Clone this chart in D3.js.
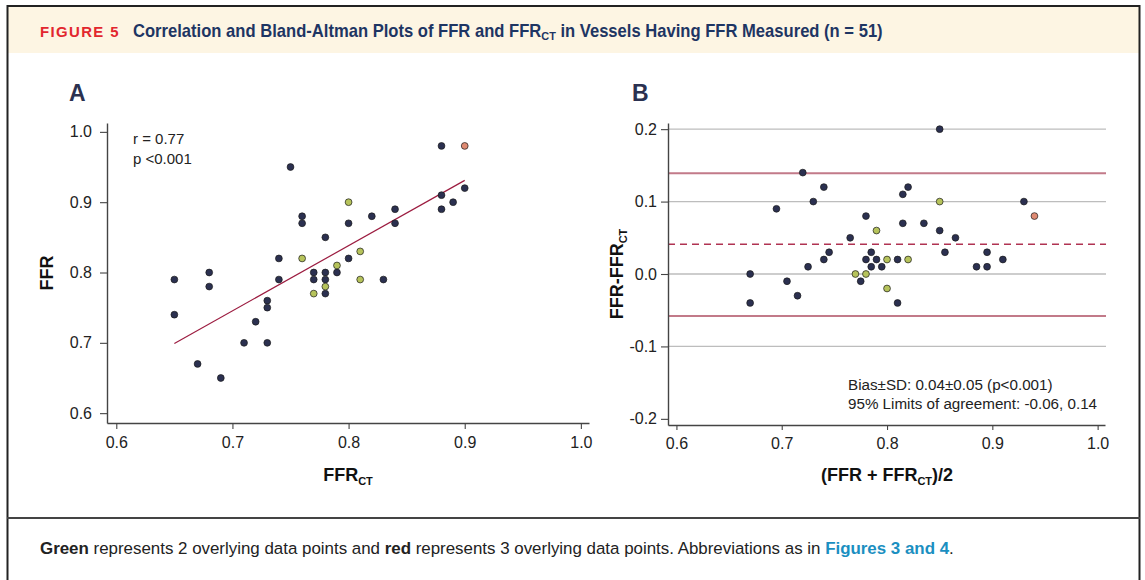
<!DOCTYPE html>
<html>
<head>
<meta charset="utf-8">
<script src="https://cdn.jsdelivr.net/npm/d3@7"></script>
<style>
  body { margin: 0; background: #fff; }
  svg text { font-family: "Liberation Sans", Arial, Helvetica, sans-serif; }
</style>
</head>
<body>
<svg id="fig" width="1145" height="580"></svg>
<script>
// panel A: FFR against FFR-CT, one entry per drawn dot
var ffrCT = [0.75, 0.65, 0.65, 0.68, 0.68, 0.67, 0.69, 0.71, 0.72, 0.73, 0.73, 0.73,
             0.74, 0.74, 0.76, 0.76, 0.77, 0.77, 0.78, 0.78, 0.78, 0.78, 0.79, 0.80,
             0.80, 0.82, 0.83, 0.84, 0.84, 0.88, 0.88, 0.88, 0.89, 0.90,
             0.76, 0.77, 0.78, 0.79, 0.80, 0.81, 0.81, 0.90];
var ffr   = [0.95, 0.79, 0.74, 0.80, 0.78, 0.67, 0.65, 0.70, 0.73, 0.76, 0.75, 0.70,
             0.82, 0.79, 0.88, 0.87, 0.80, 0.79, 0.85, 0.80, 0.79, 0.77, 0.80, 0.87,
             0.82, 0.88, 0.79, 0.89, 0.87, 0.98, 0.91, 0.89, 0.90, 0.92,
             0.82, 0.77, 0.78, 0.81, 0.90, 0.83, 0.79, 0.98];
// how many vessels sit on the dot (1 single, 2 green, 3 red)
var stackA = [1,1,1,1,1,1,1,1,1,1,1,1,1,1,1,1,1,1,1,1,1,1,1,1,1,1,1,1,1,1,1,1,1,1,
              2,2,2,2,2,2,2,3];

// regression line
var fitX = [0.65, 0.90];
var fitY = [0.699, 0.931];

// panel B: Bland-Altman
var meanB = [0.72, 0.74, 0.73, 0.695, 0.78, 0.765, 0.745, 0.74, 0.725, 0.67, 0.705, 0.715,
             0.67, 0.775, 0.78, 0.785, 0.785, 0.79, 0.85, 0.82, 0.815, 0.93, 0.815, 0.835,
             0.85, 0.865, 0.855, 0.795, 0.81, 0.81, 0.885, 0.895, 0.895, 0.91,
             0.79, 0.77, 0.78, 0.85, 0.80, 0.82, 0.80, 0.94];
var diffB = [0.14, 0.12, 0.10, 0.09, 0.08, 0.05, 0.03, 0.02, 0.01, 0.00, -0.01, -0.03,
             -0.04, -0.01, 0.02, 0.03, 0.01, 0.02, 0.20, 0.12, 0.11, 0.10, 0.07, 0.07,
             0.06, 0.05, 0.03, 0.01, 0.02, -0.04, 0.01, 0.01, 0.03, 0.02,
             0.06, 0.00, 0.00, 0.10, 0.02, 0.02, -0.02, 0.08];
var stackB = [1,1,1,1,1,1,1,1,1,1,1,1,1,1,1,1,1,1,1,1,1,1,1,1,1,1,1,1,1,1,1,1,1,1,
              2,2,2,2,2,2,2,3];

var bias = 0.041, loaLow = -0.058, loaHigh = 0.139;

var ticksX = [0.6, 0.7, 0.8, 0.9, 1.0];
var ticksA = [0.6, 0.7, 0.8, 0.9, 1.0];
var ticksB = [-0.2, -0.1, 0.0, 0.1, 0.2];
var gridB = [-0.1, 0.0, 0.1, 0.2];

var dotColor = { 1: "#2b3050", 2: "#b6c35b", 3: "#df8a72" };

var svg = d3.select("#fig");
var fmt = function (d) { return d.toFixed(1); };

// squeeze a text horizontally so it spans `width` px, like the condensed journal face
function squeeze(sel, x, y, width) {
  var w = sel.node().getComputedTextLength();
  sel.attr("transform", "translate(" + x + "," + y + ") scale(" + (width / w) + ",1)");
}

// ---- frame and header ----
svg.append("rect").attr("x", 8).attr("y", 6).attr("width", 1131).attr("height", 47)
  .attr("fill", "#fdf5e3");
svg.append("line").attr("x1", 7).attr("x2", 1140).attr("y1", 6).attr("y2", 6)
  .attr("stroke", "#222").attr("stroke-width", 2);
svg.append("line").attr("x1", 7.5).attr("x2", 7.5).attr("y1", 5).attr("y2", 580)
  .attr("stroke", "#222").attr("stroke-width", 2);
svg.append("line").attr("x1", 1139.5).attr("x2", 1139.5).attr("y1", 5).attr("y2", 580)
  .attr("stroke", "#222").attr("stroke-width", 2);
svg.append("line").attr("x1", 7).attr("x2", 1140).attr("y1", 518).attr("y2", 518)
  .attr("stroke", "#444").attr("stroke-width", 2);

var fig = svg.append("text")
  .attr("fill", "#e2262e").attr("font-weight", "bold").attr("font-size", 15)
  .attr("letter-spacing", 1.4)
  .text("FIGURE 5");
squeeze(fig, 40, 37, 80);

var title = svg.append("text")
  .attr("fill", "#1e3563").attr("font-weight", "bold").attr("font-size", 17.5);
title.append("tspan").text("Correlation and Bland-Altman Plots of FFR and FFR");
title.append("tspan").attr("dy", 3).attr("font-size", 11.5).text("CT");
title.append("tspan").attr("dy", -3).text(" in Vessels Having FFR Measured (n = 51)");
squeeze(title, 133, 37, 750);

var foot = svg.append("text")
  .attr("fill", "#222").attr("font-size", 16.5);
foot.append("tspan").attr("font-weight", "bold").text("Green");
foot.append("tspan").text(" represents 2 overlying data points and ");
foot.append("tspan").attr("font-weight", "bold").text("red");
foot.append("tspan").text(" represents 3 overlying data points. Abbreviations as in ");
foot.append("tspan").attr("font-weight", "bold").attr("fill", "#1b8fc1").text("Figures 3 and 4");
foot.append("tspan").text(".");
squeeze(foot, 40, 554, 915);

// ---- shared helpers ----
function styleAxis(g) {
  g.selectAll(".domain").attr("stroke", "#444").attr("stroke-width", 1.4);
  g.selectAll(".tick line").attr("stroke", "#444").attr("stroke-width", 1.1);
  g.selectAll(".tick text").attr("fill", "#222").attr("font-size", 16)
    .attr("font-family", "'Liberation Sans', Arial, sans-serif");
}

function subLabel(g, x, y, main, sub, tail, rotate) {
  var t = g.append("text")
    .attr("text-anchor", "middle").attr("font-weight", "bold").attr("font-size", 18)
    .attr("fill", "#111")
    .attr("transform", "translate(" + x + "," + y + ")" + (rotate ? " rotate(-90)" : ""));
  t.append("tspan").text(main);
  if (sub) {
    t.append("tspan").attr("dy", 4).attr("font-size", 11).text(sub);
    t.append("tspan").attr("dy", -4).text(tail || "");
  }
  return t;
}

function dots(g, xs, ys, stack, x, y) {
  g.append("g").selectAll("circle")
    .data(d3.range(xs.length))
    .join("circle")
    .attr("cx", function (i) { return x(xs[i]); })
    .attr("cy", function (i) { return y(ys[i]); })
    .attr("r", 3.4)
    .attr("fill", function (i) { return dotColor[stack[i]]; })
    .attr("stroke", "#1a1a1a")
    .attr("stroke-width", 0.7);
}

// ---- panel A ----
var xA = d3.scaleLinear().domain([0.592, 1.007]).range([107, 589]);
var yA = d3.scaleLinear().domain([0.586, 1.0126]).range([423, 123]);
var gA = svg.append("g");

gA.append("text").attr("x", 69).attr("y", 101).attr("font-size", 23)
  .attr("font-weight", "bold").attr("fill", "#2b3150").text("A");

gA.append("g").attr("transform", "translate(0,423)")
  .call(d3.axisBottom(xA).tickValues(ticksX).tickFormat(fmt).tickSize(6).tickSizeOuter(0).tickPadding(8))
  .call(styleAxis);
gA.append("g").attr("transform", "translate(107,0)")
  .call(d3.axisLeft(yA).tickValues(ticksA).tickFormat(fmt).tickSize(7).tickSizeOuter(0).tickPadding(8))
  .call(styleAxis);

gA.append("line")
  .attr("x1", xA(fitX[0])).attr("y1", yA(fitY[0]))
  .attr("x2", xA(fitX[1])).attr("y2", yA(fitY[1]))
  .attr("stroke", "#9c1c40").attr("stroke-width", 1.2);

dots(gA, ffrCT, ffr, stackA, xA, yA);

gA.append("text").attr("x", 133).attr("y", 144).attr("font-size", 15).attr("fill", "#222").text("r = 0.77");
gA.append("text").attr("x", 133).attr("y", 164).attr("font-size", 15).attr("fill", "#222").text("p <0.001");

subLabel(gA, 348, 481, "FFR", "CT", "", false);
subLabel(gA, 53, 273, "FFR", null, null, true);

// ---- panel B ----
var xB = d3.scaleLinear().domain([0.592, 1.007]).range([668, 1105]);
var yB = d3.scaleLinear().domain([-0.2085, 0.2085]).range([425, 123]);
var gB = svg.append("g");

gB.append("text").attr("x", 632).attr("y", 101).attr("font-size", 23)
  .attr("font-weight", "bold").attr("fill", "#2b3150").text("B");

gB.append("g").selectAll("line").data(gridB).join("line")
  .attr("x1", 668).attr("x2", 1106)
  .attr("y1", function (d) { return yB(d); }).attr("y2", function (d) { return yB(d); })
  .attr("stroke", "#bdbdbd").attr("stroke-width", 1.3);

gB.append("g").selectAll("line").data([loaLow, loaHigh]).join("line")
  .attr("x1", 668).attr("x2", 1106)
  .attr("y1", function (d) { return yB(d); }).attr("y2", function (d) { return yB(d); })
  .attr("stroke", "#c27a89").attr("stroke-width", 2);

gB.append("line").attr("x1", 668).attr("x2", 1106)
  .attr("y1", yB(bias)).attr("y2", yB(bias))
  .attr("stroke", "#b03352").attr("stroke-width", 1.4).attr("stroke-dasharray", "7,5");

gB.append("g").attr("transform", "translate(0,425)")
  .call(d3.axisBottom(xB).tickValues(ticksX).tickFormat(fmt).tickSize(5).tickSizeOuter(0).tickPadding(8))
  .call(styleAxis);
gB.append("g").attr("transform", "translate(668,0)")
  .call(d3.axisLeft(yB).tickValues(ticksB).tickFormat(fmt).tickSize(7).tickSizeOuter(0).tickPadding(4))
  .call(styleAxis);

dots(gB, meanB, diffB, stackB, xB, yB);

gB.append("text").attr("x", 848).attr("y", 390).attr("font-size", 15.2).attr("fill", "#222")
  .text("Bias\u00b1SD: 0.04\u00b10.05 (p<0.001)");
gB.append("text").attr("x", 848).attr("y", 409).attr("font-size", 15.2).attr("fill", "#222")
  .text("95% Limits of agreement: -0.06, 0.14");

subLabel(gB, 887, 481, "(FFR + FFR", "CT", ")/2", false);
subLabel(gB, 623, 274, "FFR-FFR", "CT", "", true);
</script>
</body>
</html>
